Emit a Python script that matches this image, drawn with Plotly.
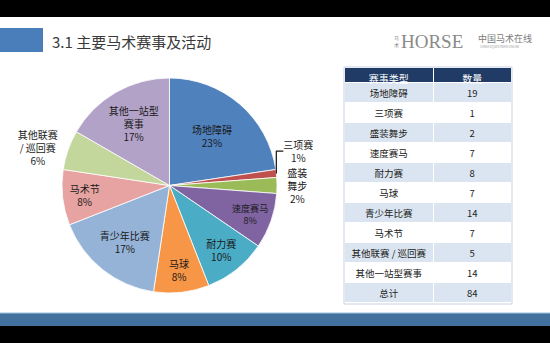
import plotly.graph_objects as go

categories = ["场地障碍", "三项赛", "盛装舞步", "速度赛马", "耐力赛", "马球",
              "青少年比赛", "马术节", "其他联赛 / 巡回赛", "其他一站型赛事"]
pie_labels = ["场地障碍", "三项赛", "盛装<br>舞步", "速度赛马", "耐力赛", "马球",
              "青少年比赛", "马术节", "其他联赛<br>/ 巡回赛", "其他一站型<br>赛事"]
counts = [19, 1, 2, 7, 8, 7, 14, 7, 5, 14]
total_label = "总计"
colors = ["#4F81BD", "#C0504D", "#9BBB59", "#8064A2", "#4BACC6", "#F79646",
          "#95B3D7", "#E6A3A1", "#C3D69B", "#B3A2C7"]
text_pos = ["inside", "outside", "outside", "inside", "inside", "inside",
            "inside", "inside", "outside", "inside"]

FONT = "Noto Sans CJK SC"
W, H = 550, 343

fig = go.Figure()

fig.add_trace(go.Pie(
    labels=categories,
    values=counts,
    text=pie_labels,
    texttemplate="%{text}<br>%{percent:.0%}",
    textposition=text_pos,
    insidetextorientation="horizontal",
    sort=False,
    direction="clockwise",
    rotation=0,
    marker=dict(colors=colors, line=dict(color="#FFFFFF", width=0.8)),
    textfont=dict(family=FONT, size=10, color="#1a1a1a"),
    insidetextfont=dict(family=FONT, size=10, color="#1a1a1a"),
    outsidetextfont=dict(family=FONT, size=10, color="#1a1a1a"),
    showlegend=False,
    hoverinfo="label+value+percent",
    domain=dict(x=[61 / W, 278 / W], y=[1 - 293 / H, 1 - 78 / H]),
))

col1 = [c.replace(" ", "\u00a0") for c in categories] + [total_label]
col2 = counts + [sum(counts)]
row_fill = ["#DBE5F1" if i % 2 == 0 else "#FFFFFF" for i in range(len(col1))]

fig.add_trace(go.Table(
    columnwidth=[90, 78],
    header=dict(values=["赛事类型", "数量"],
                fill_color="#1F3B66",
                line=dict(color="#FFFFFF", width=1),
                font=dict(family=FONT, size=10, color="#FFFFFF"),
                align="center", height=15),
    cells=dict(values=[col1, col2],
               fill_color=[row_fill, row_fill],
               line=dict(color="#FFFFFF", width=1),
               font=dict(family=FONT, size=9.5, color="#222222"),
               align="center", height=20),
    domain=dict(x=[344 / W, 512 / W], y=[1 - 304 / H, 1 - 67 / H]),
))

shapes = [
    dict(type="rect", xref="paper", yref="paper", x0=0, x1=1, y0=1 - 17 / H, y1=1,
         fillcolor="#000000", line=dict(width=0), layer="below"),
    dict(type="rect", xref="paper", yref="paper", x0=0, x1=1, y0=0, y1=17 / H,
         fillcolor="#000000", line=dict(width=0), layer="below"),
    dict(type="rect", xref="paper", yref="paper", x0=0, x1=1, y0=17 / H, y1=30 / H,
         fillcolor="#41719C", line=dict(width=0), layer="below"),
    dict(type="rect", xref="paper", yref="paper", x0=0, x1=1, y0=29.5 / H, y1=30.5 / H,
         fillcolor="#9DC3E6", line=dict(width=0), layer="below"),
    dict(type="rect", xref="paper", yref="paper", x0=0, x1=43 / W,
         y0=1 - 52 / H, y1=1 - 28 / H,
         fillcolor="#4A7EBB", line=dict(width=0), layer="below"),
    dict(type="rect", xref="paper", yref="paper", x0=344 / W, x1=512 / W,
         y0=1 - 304 / H, y1=1 - 67 / H,
         fillcolor="rgba(0,0,0,0)", line=dict(color="#C9D3E3", width=1)),
]

annotations = [
    dict(text="3.1 主要马术赛事及活动", xref="paper", yref="paper",
         x=50 / W, y=1 - 41 / H, xanchor="left", yanchor="middle", showarrow=False,
         font=dict(family=FONT, size=15, color="#3A3A3A")),
    dict(text="马<br>术", xref="paper", yref="paper",
         x=396 / W, y=1 - 41 / H, xanchor="center", yanchor="middle", showarrow=False,
         font=dict(family=FONT, size=5, color="#888888")),
    dict(text="HORSE", xref="paper", yref="paper",
         x=399 / W, y=1 - 41 / H, xanchor="left", yanchor="middle", showarrow=False,
         font=dict(family="Liberation Serif", size=19, color="#8A8A8A")),
    dict(text="中国马术在线", xref="paper", yref="paper",
         x=476 / W, y=1 - 39 / H, xanchor="left", yanchor="middle", showarrow=False,
         font=dict(family=FONT, size=9, color="#7A7A7A")),
    dict(text="CHINA EQUESTRIAN ONLINE", xref="paper", yref="paper",
         x=478 / W, y=1 - 47 / H, xanchor="left", yanchor="middle", showarrow=False,
         font=dict(family=FONT, size=3, color="#999999")),
]

fig.update_layout(
    width=W, height=H,
    margin=dict(l=0, r=0, t=0, b=0),
    paper_bgcolor="#FFFFFF",
    plot_bgcolor="#FFFFFF",
    shapes=shapes,
    annotations=annotations,
)

fig.write_html("out.html")
